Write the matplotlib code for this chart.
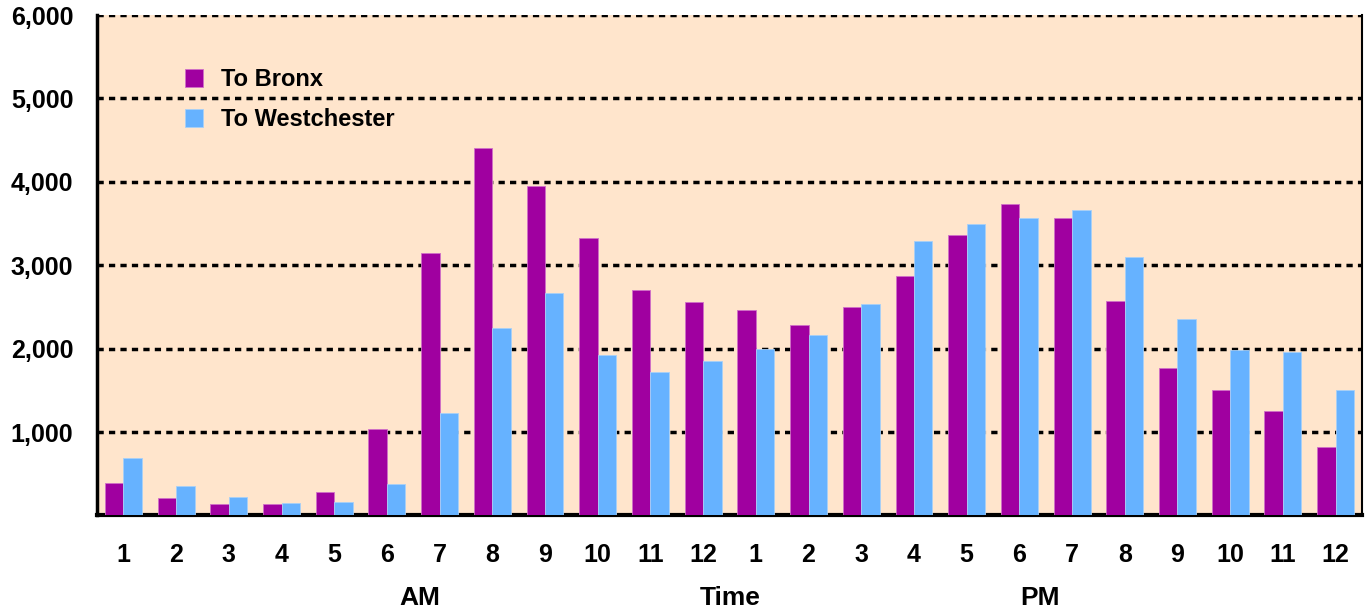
import numpy as np
import matplotlib.pyplot as plt

# hourly volumes, 1 AM .. 12 midnight
hours = ["1", "2", "3", "4", "5", "6", "7", "8", "9", "10", "11", "12",
         "1", "2", "3", "4", "5", "6", "7", "8", "9", "10", "11", "12"]
to_bronx = [385, 205, 140, 140, 285, 1035, 3145, 4405, 3945, 3325, 2705, 2555,
            2465, 2278, 2502, 2870, 3358, 3738, 3566, 2566, 1770, 1506, 1258, 822]
to_westchester = [694, 354, 218, 150, 162, 382, 1226, 2250, 2666, 1926, 1722, 1854,
                  1998, 2166, 2538, 3290, 3498, 3570, 3658, 3102, 2354, 1986, 1966, 1506]
yticks = [1000, 2000, 3000, 4000, 5000, 6000]

PURPLE = "#A000A0"
BLUE = "#66B2FF"
PEACH = "#FFE5CC"

plt.rcParams["font.family"] = ["Liberation Sans", "DejaVu Sans"]

fig = plt.figure(figsize=(13.67, 6.15), dpi=100)
ax = fig.add_axes([0.071, 0.1618, 0.9253, 0.8138])
ax.set_facecolor(PEACH)

x = np.arange(len(hours))
w = 0.35
ax.bar(x - w / 2, to_bronx, w, color=PURPLE, edgecolor="#D070C8", lw=0.6,
       label="To Bronx", zorder=3)
ax.bar(x + w / 2, to_westchester, w, color=BLUE, edgecolor="#A8D0F8", lw=0.6,
       label="To Westchester", zorder=3)

ax.set_xlim(-0.5, len(hours) - 0.5)
ax.set_ylim(0, 6000)
ax.set_yticks(yticks)
ax.set_yticklabels([f"{v:,}" for v in yticks])
ax.set_xticks(x)
ax.set_xticklabels(hours)
for t in yticks:
    ax.axhline(t, color="black", lw=2.5, ls=(0, (1.8, 1.5)), zorder=2)

ax.tick_params(axis="both", length=0, labelsize=18)
ax.tick_params(axis="y", pad=17)
ax.tick_params(axis="x", pad=20)
for lab in ax.get_xticklabels() + ax.get_yticklabels():
    lab.set_fontweight("bold")

ax.spines["top"].set_visible(False)
ax.spines["left"].set_linewidth(2.5)
ax.spines["bottom"].set_linewidth(3)
ax.spines["right"].set_linewidth(1.5)

# AM / Time / PM labels under the hours
for xpos, txt in [(420, "AM"), (730, "Time"), (1040, "PM")]:
    fig.text(xpos / 1367, 1 - 598 / 615, txt, ha="center", va="center",
             fontsize=19, fontweight="bold")

leg = ax.legend(loc="upper left", bbox_to_anchor=(0.053, 0.937), frameon=False,
                prop={"size": 17, "weight": "bold"}, handlelength=0.76,
                handleheight=0.8, handletextpad=0.76, labelspacing=0.72)

fig.savefig("out.png", dpi=100)
